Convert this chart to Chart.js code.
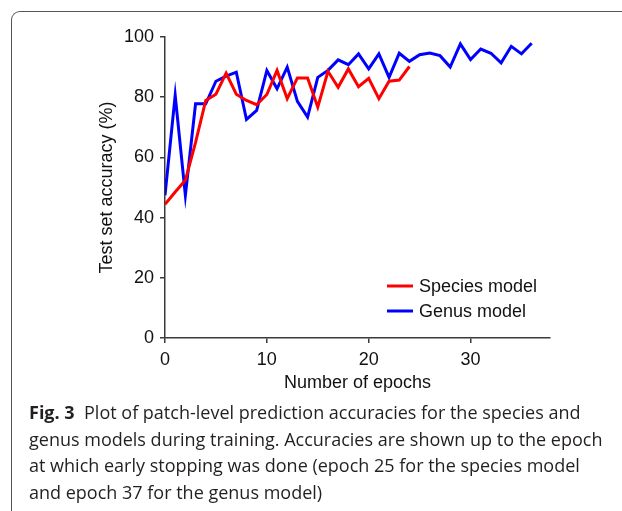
<!DOCTYPE html>
<html>
<head>
<meta charset="utf-8">
<script src="https://cdn.jsdelivr.net/npm/chart.js@4"></script>
<style>
  html, body { margin: 0; padding: 0; background: #fff; }
  body { width: 622px; height: 511px; position: relative; overflow: hidden; }
  .card {
    position: absolute; left: 11px; top: 11px; width: 700px; height: 600px;
    border-left: 1.5px solid #555; border-top: 1.5px solid #555;
    border-top-left-radius: 9px;
  }
  #wrap { position: absolute; left: 0; top: 0; width: 622px; height: 400px; }
  .caption {
    position: absolute; left: 29px; top: 399px; width: 593px; white-space: nowrap;
    font-family: "Open Sans", sans-serif; font-size: 18px; line-height: 26.7px;
    color: #231f20;
  }
  .caption b { font-weight: 700; }
</style>
</head>
<body>
<div class="card"></div>
<div id="wrap"><canvas id="chart"></canvas></div>
<div class="caption"><b>Fig. 3</b>&nbsp; Plot of patch-level prediction accuracies for the species and<br>genus models during training. Accuracies are shown up to the epoch<br>at which early stopping was done (epoch 25 for the species model<br>and epoch 37 for the genus model)</div>
<script>
/* ── data ── */
const speciesAcc = [44.4, 48.5, 52.4, 65, 78.9, 81, 88, 81, 78.9, 77.5, 80.9, 88.9, 79.5,
                    86.4, 86.4, 76.7, 88.6, 83.3, 89.4, 83.5, 86.3, 79.5, 85.3, 85.7, 90.2];
const genusAcc   = [47.4, 80.6, 47.4, 77.8, 77.8, 85.3, 87, 88.3, 72.6, 75.6, 88.9, 82.8, 90,
                    78.6, 73.4, 86.6, 88.9, 92.4, 90.8, 94.4, 89.4, 94.4, 86.6, 94.6, 91.9,
                    94.1, 94.7, 93.8, 90, 97.7, 92.5, 96, 94.6, 91.4, 96.9, 94.4, 97.9];
const seriesNames = ['Species model', 'Genus model'];
const xTicks = [0, 10, 20, 30];
const yTicks = [0, 20, 40, 60, 80, 100];

const FONT = 'Liberation Sans, Arial, sans-serif';
const AXIS = '#3a3a3a';

const toPoints = (arr) => arr.map((v, i) => ({ x: i, y: v }));

/* legend inside the plot, bottom right */
const insideLegend = {
  id: 'insideLegend',
  afterDraw(chart) {
    const { ctx, chartArea } = chart;
    const x0 = chartArea.right - 163;
    let y = chartArea.bottom - 52;
    ctx.save();
    ctx.font = '18px ' + FONT;
    ctx.textBaseline = 'middle';
    chart.data.datasets.forEach((ds) => {
      ctx.strokeStyle = ds.borderColor;
      ctx.lineWidth = 3;
      ctx.beginPath();
      ctx.moveTo(x0, y);
      ctx.lineTo(x0 + 26, y);
      ctx.stroke();
      ctx.fillStyle = '#111';
      ctx.fillText(ds.label, x0 + 32, y + 1);
      y += 25;
    });
    ctx.restore();
  },
};

new Chart(document.getElementById('chart'), {
  type: 'line',
  data: {
    datasets: [
      {
        label:       seriesNames[0],
        data:        toPoints(speciesAcc),
        borderColor: '#ff0000',
        borderWidth: 3,
        pointRadius: 0,
        tension:     0,
      },
      {
        label:       seriesNames[1],
        data:        toPoints(genusAcc),
        borderColor: '#0000ff',
        borderWidth: 3,
        pointRadius: 0,
        tension:     0,
      },
    ],
  },
  options: {
    responsive:          true,
    maintainAspectRatio: false,
    animation:           false,
    layout: { padding: { left: 0, top: 37, right: 72, bottom: 0 } },
    plugins: {
      legend:  { display: false },
      tooltip: { enabled: false },
    },
    scales: {
      x: {
        type: 'linear',
        min:  0,
        max:  37.8,
        afterBuildTicks: (s) => { s.ticks = xTicks.map((v) => ({ value: v })); },
        afterFit: (s) => { s.height = 62; },
        grid:   { drawOnChartArea: false, drawTicks: true, tickLength: 5, color: AXIS, lineWidth: 1.5 },
        border: { display: true, color: AXIS, width: 1.5 },
        ticks:  { color: '#111', font: { family: FONT, size: 18 }, padding: 6, maxRotation: 0 },
        title:  {
          display: true, text: 'Number of epochs', color: '#111',
          font: { family: FONT, size: 18 }, padding: { top: 0, bottom: 6 },
        },
      },
      y: {
        min: 0,
        max: 100,
        afterBuildTicks: (s) => { s.ticks = yTicks.map((v) => ({ value: v })); },
        afterFit: (s) => { s.width = 165; },
        grid:   { drawOnChartArea: false, drawTicks: true, tickLength: 5, color: AXIS, lineWidth: 1.5 },
        border: { display: true, color: AXIS, width: 1.5 },
        ticks:  { color: '#111', font: { family: FONT, size: 18 }, padding: 6 },
        title:  {
          display: true, text: 'Test set accuracy (%)', color: '#111',
          font: { family: FONT, size: 18 }, padding: { top: 96, bottom: 0 },
        },
      },
    },
  },
  plugins: [insideLegend],
});
</script>
</body>
</html>
